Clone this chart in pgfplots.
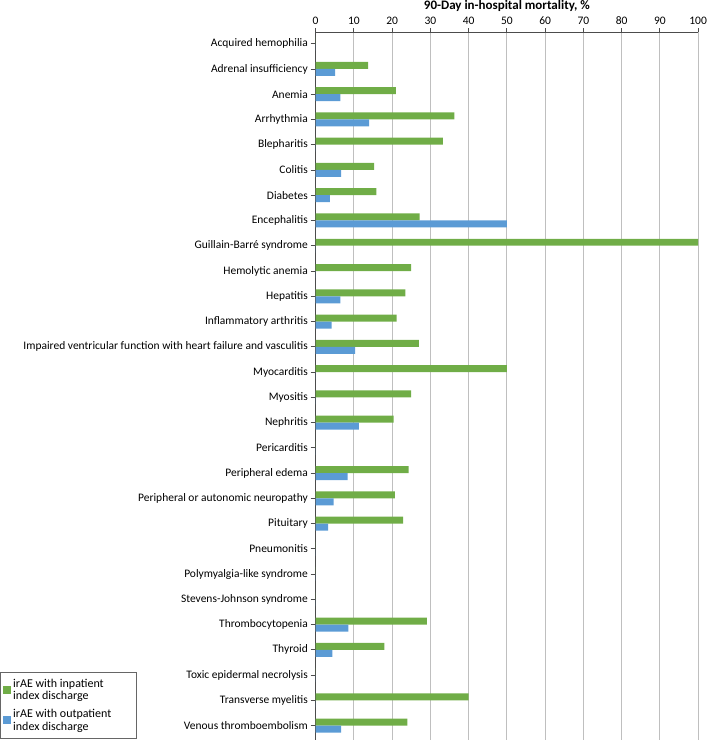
\documentclass[border=0pt]{standalone}
\usepackage{fontspec}
\setmainfont{Carlito}
\usepackage{pgfplots}
\pgfplotsset{compat=1.18}
\definecolor{inpat}{HTML}{70AD47}
\definecolor{outpat}{HTML}{5B9BD5}
\begin{document}
\begin{tikzpicture}
\begin{axis}[
  scale only axis, width=383pt, height=708pt,
  xbar=0pt, bar width=7pt,
  y dir=reverse,
  xmin=0, xmax=100, ymin=-0.45, ymax=27.55,
  axis x line*=top, axis y line*=left,
  xtick={0,10,...,100},
  ytick={0,...,27},
  yticklabels={Acquired hemophilia, Adrenal insufficiency, Anemia, Arrhythmia, Blepharitis, Colitis, Diabetes, Encephalitis, Guillain-Barré syndrome, Hemolytic anemia, Hepatitis, Inflammatory arthritis, Impaired ventricular function with heart failure and vasculitis, Myocarditis, Myositis, Nephritis, Pericarditis, Peripheral edema, Peripheral or autonomic neuropathy, Pituitary, Pneumonitis, Polymyalgia-like syndrome, Stevens-Johnson syndrome, Thrombocytopenia, Thyroid, Toxic epidermal necrolysis, Transverse myelitis, Venous thromboembolism},
  tick align=outside,
  xtick style={draw=black!70, line width=0.8pt, /pgfplots/major tick length=4pt},
  ytick style={draw=black!70, line width=0.9pt, /pgfplots/major tick length=5pt},
  axis line style={black!70, line width=0.9pt},
  xmajorgrids, grid style={black!25, line width=1pt},
  ticklabel style={font=\fontsize{11.5}{13}\selectfont},
  /pgf/number format/assume math mode=true,
  title={90-Day in-hospital mortality, \%},
  title style={font=\bfseries\fontsize{13}{15}\selectfont, at={(0.5,1)}, anchor=south, yshift=15pt, inner sep=0pt},
  legend style={at={(-0.825,0.001)}, anchor=south west, draw=black!60,
    font=\fontsize{12}{12.5}\selectfont, cells={align=left, anchor=west},
    row sep=4pt, inner ysep=5pt, inner xsep=3pt},
  legend image code/.code={\fill[#1] (5pt,-4pt) rectangle (13pt,4pt);},
  enlarge y limits=false,
]
\addplot[fill=inpat, draw=none, bar shift=3.5pt] coordinates {
(0,0) (13.7,1) (21.0,2) (36.3,3) (33.3,4) (15.3,5) (15.9,6) (27.2,7) (100,8) (25,9)
(23.5,10) (21.2,11) (27.0,12) (50,13) (25,14) (20.4,15) (0,16) (24.3,17) (20.7,18) (22.9,19)
(0,20) (0,21) (0,22) (29.1,23) (18.0,24) (0,25) (40,26) (24.0,27)};
\addplot[fill=outpat, draw=none, bar shift=-3.5pt] coordinates {
(0,0) (5.1,1) (6.5,2) (14.0,3) (0,4) (6.7,5) (3.7,6) (50,7) (0,8) (0,9)
(6.5,10) (4.2,11) (10.3,12) (0,13) (0,14) (11.3,15) (0,16) (8.4,17) (4.7,18) (3.3,19)
(0,20) (0,21) (0,22) (8.6,23) (4.4,24) (0,25) (0,26) (6.7,27)};
\legend{irAE with inpatient\\index discharge, irAE with outpatient\hspace*{20pt}\\index discharge}
\end{axis}
\end{tikzpicture}
\end{document}
